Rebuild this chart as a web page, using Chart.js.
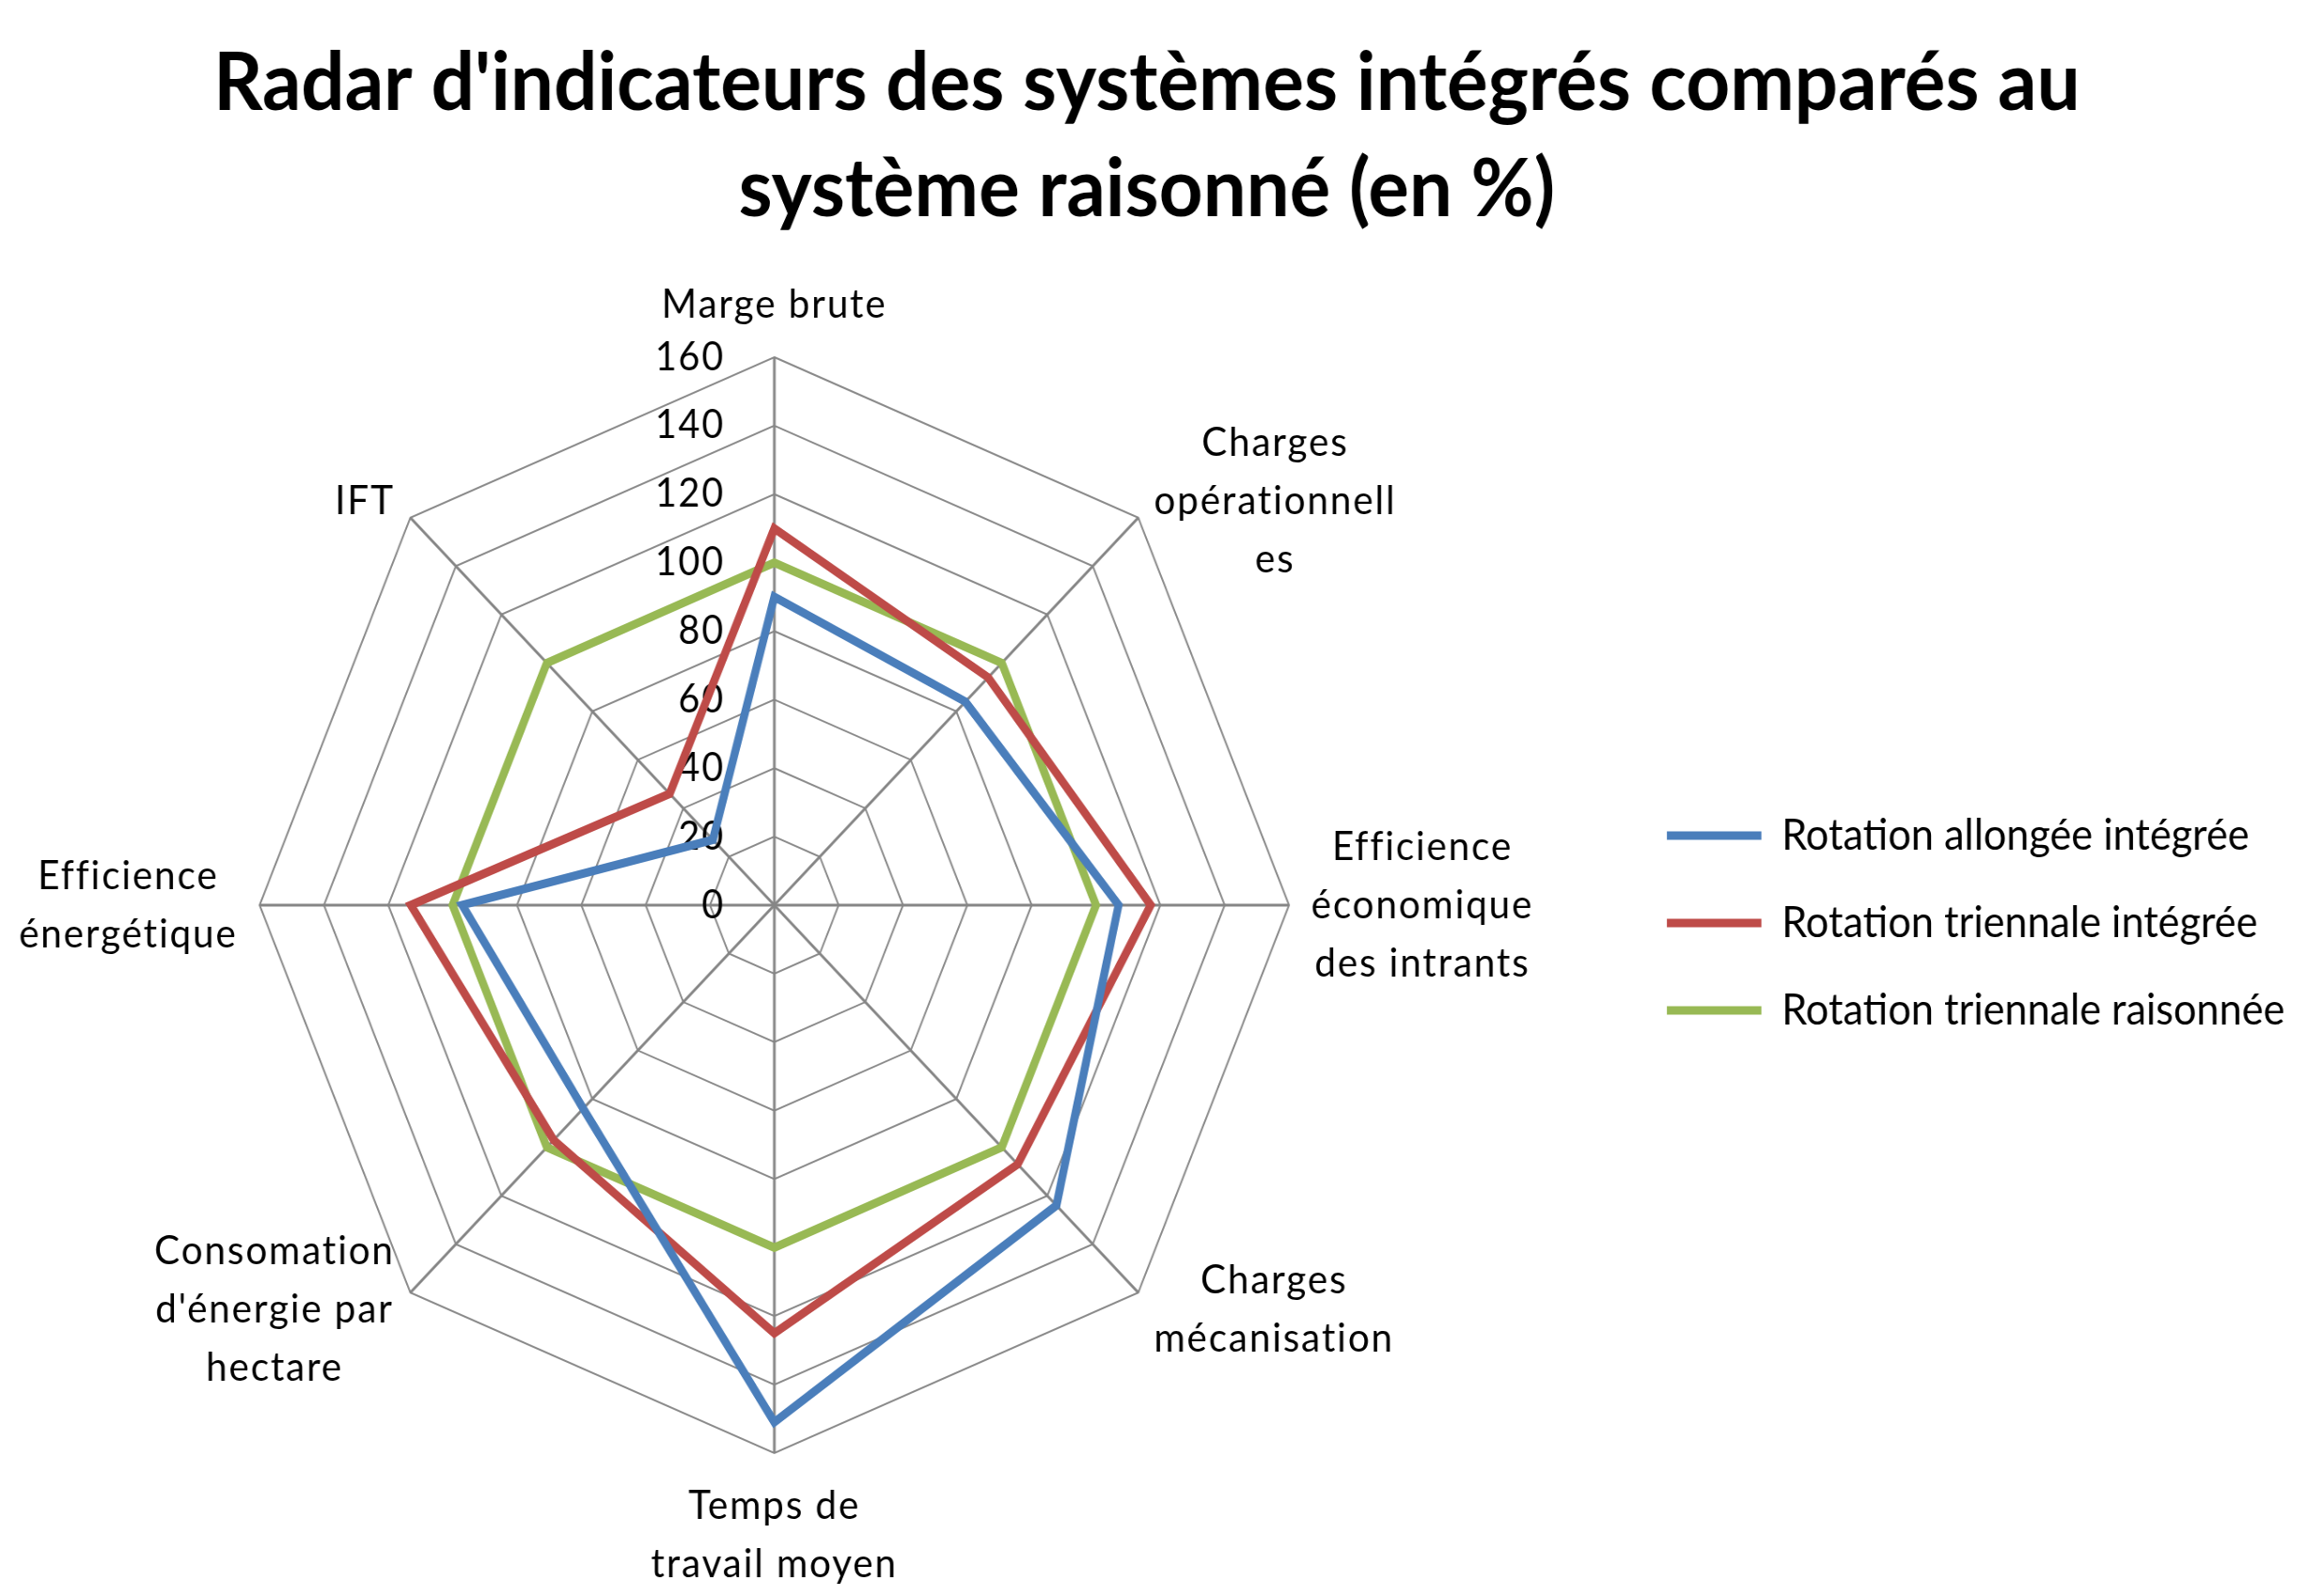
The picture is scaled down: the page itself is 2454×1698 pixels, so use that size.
<!DOCTYPE html>
<html lang="fr">
<head>
<meta charset="utf-8">
<title>Radar d'indicateurs des systèmes intégrés</title>
<script src="https://cdn.jsdelivr.net/npm/chart.js@4.4.1/dist/chart.umd.min.js"></script>
<style>
  html, body { margin: 0; padding: 0; background: #fff; overflow: hidden; }
</style>
</head>
<body>
<!-- the original picture is squeezed horizontally, so the canvas is drawn wider and shown at 2454px -->
<canvas id="radarChart" width="2613" height="1698" style="display:block;width:2454px;height:1698px"></canvas>
<script>
// Axes of the radar, clockwise from the top
const indicators = [
  'Marge brute',
  ['Charges', 'opérationnell', 'es'],
  ['Efficience', 'économique', 'des intrants'],
  ['Charges', 'mécanisation'],
  ['Temps de', 'travail moyen'],
  ['Consomation', "d'énergie par", 'hectare'],
  ['Efficience', 'énergétique'],
  'IFT'
];

const seriesNames = [
  'Rotation allongée intégrée',
  'Rotation triennale intégrée',
  'Rotation triennale raisonnée'
];

// values in % of the reasoned system
const allongeeIntegree = [90, 84, 107, 124, 151, 84, 97, 27];
const triennaleIntegree = [110, 94, 117, 107, 125, 97, 113, 46];
const triennaleRaisonnee = [100, 100, 100, 100, 100, 100, 100, 100];

const tickMin = 0;
const tickMax = 160;
const tickStep = 20;

const seriesColors = ['#4a7ebb', '#be4b48', '#98b954'];

// tick labels sit to the left of the vertical axis, under the lines
const tickLabels = {
  id: 'tickLabels',
  beforeDatasetsDraw(chart) {
    const s = chart.scales.r;
    const ctx = chart.ctx;
    ctx.save();
    ctx.font = '42px Lato';
    ctx.letterSpacing = '2px';
    ctx.fillStyle = '#000';
    ctx.textAlign = 'right';
    ctx.textBaseline = 'middle';
    s.ticks.forEach(t => {
      const d = s.getDistanceFromCenterForValue(t.value);
      ctx.fillText(String(t.value), s.xCenter - 56, s.yCenter - d);
    });
    ctx.restore();
  }
};

// category labels, centred lines like the spreadsheet does it
const axisLabels = {
  id: 'axisLabels',
  afterDraw(chart) {
    const s = chart.scales.r;
    const ctx = chart.ctx;
    const lineH = 62;
    ctx.save();
    ctx.font = '43px Lato';
    ctx.letterSpacing = '2px';
    ctx.fillStyle = '#000';
    ctx.textAlign = 'center';
    ctx.textBaseline = 'middle';
    chart.data.labels.forEach((label, i) => {
      const lines = [].concat(label);
      const p = s.getPointPosition(i, s.drawingArea + 25);
      const dx = p.x - s.xCenter;
      const w = Math.max(...lines.map(l => ctx.measureText(l).width));
      const h = lines.length * lineH;
      let cx = p.x;
      let top = p.y - h / 2;
      if (dx > 1) cx = p.x + w / 2;
      else if (dx < -1) cx = p.x - w / 2;
      else top = p.y < s.yCenter ? p.y - h : p.y;
      lines.forEach((l, j) => ctx.fillText(l, cx, top + lineH * (j + 0.5)));
    });
    ctx.restore();
  }
};

function makeDataset(name, values, color) {
  return {
    label: name,
    data: values,
    borderColor: color,
    backgroundColor: color,
    borderWidth: 9,
    borderJoinStyle: 'miter',
    pointRadius: 0,
    pointHoverRadius: 0,
    fill: false,
    tension: 0
  };
}

function renderRadar() {
  const ctx = document.getElementById('radarChart').getContext('2d');
  const padding = { left: 0, right: 0, top: 0, bottom: 151 };

  const chart = new Chart(ctx, {
    type: 'radar',
    data: {
      labels: indicators,
      datasets: [
        makeDataset(seriesNames[0], allongeeIntegree, seriesColors[0]),
        makeDataset(seriesNames[1], triennaleIntegree, seriesColors[1]),
        makeDataset(seriesNames[2], triennaleRaisonnee, seriesColors[2])
      ]
    },
    options: {
      responsive: false,
      devicePixelRatio: 1,
      animation: false,
      layout: { padding: padding },
      plugins: {
        title: {
          display: true,
          text: ["Radar d'indicateurs des systèmes intégrés comparés au", 'système raisonné (en %)'],
          color: '#000',
          font: { family: 'Lato', size: 87, weight: 'bold', lineHeight: '113px' },
          padding: { top: 32, bottom: 122 }
        },
        legend: {
          position: 'right',
          fullSize: false,
          title: { display: true, text: '', font: { size: 37, lineHeight: 1 }, padding: 0 },
          labels: {
            usePointStyle: true,
            pointStyle: 'line',
            pointStyleWidth: 107,
            padding: 47,
            color: '#000',
            font: { family: 'Lato', size: 46 }
          }
        },
        tooltip: { enabled: false }
      },
      scales: {
        r: {
          min: tickMin,
          max: tickMax,
          ticks: { display: false, stepSize: tickStep },
          pointLabels: { display: false },
          grid: { color: '#8a8a8a', lineWidth: 2 },
          angleLines: { color: '#868686', lineWidth: 3 },
          // the web sits a little left of the middle of its area, as in the original
          afterFit(scale) {
            scale.xCenter -= 43;
          }
        }
      }
    },
    plugins: [tickLabels, axisLabels]
  });

  // once the legend width is known, size the plot area so the legend starts where it should
  padding.right = chart.width - 1841 - chart.legend.width;
  chart.update();
}

document.addEventListener('DOMContentLoaded', renderRadar);
</script>
</body>
</html>
